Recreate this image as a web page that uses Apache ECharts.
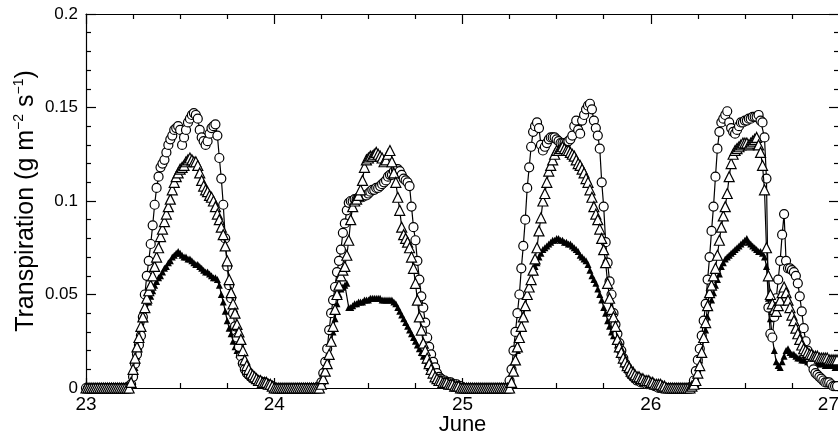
<!DOCTYPE html>
<html><head><meta charset="utf-8">
<script src="https://cdn.jsdelivr.net/npm/echarts@6/dist/echarts.min.js"></script>
<style>html,body{margin:0;padding:0;background:#fff}#c{width:838px;height:435px}</style>
</head><body><div id="c"></div>
<script>
// Days on the x axis (June), 15-minute samples (96 per day)
const firstDay = 23;
const lastDay = 27;
const xTickLabels = [23, 24, 25, 26, 27];
const yTickLabels = [0, 0.05, 0.1, 0.15, 0.2];

// ---- open circles ----
const circles23 = [
0,0,0,0, 0,0,0,0, 0,0,0,0, 0,0,0,0, 0,0,0,0,
0,0,0.001,0.002, 0.006,0.013,0.018,0.023, 0.028,0.038,0.05,0.06, 0.068,0.077,0.087,0.098,
0.107,0.113,0.118,0.12, 0.122,0.126,0.13,0.133, 0.135,0.138,0.139,0.14, 0.138,0.13,0.134,0.138,
0.142,0.144,0.146,0.147, 0.146,0.144,0.138,0.134, 0.132,0.13,0.132,0.136, 0.139,0.14,0.141,0.135,
0.123,0.112,0.098,0.08, 0.065,0.055,0.048,0.04, 0.033,0.027,0.022,0.017, 0.013,0.01,0.008,0.007,
0.006,0.005,0.005,0.004, 0.004,0.003,0.003,0.003, 0.002,0.002,0.001,0.001];
const circles24 = [
0,0,0,0, 0,0,0,0, 0,0,0,0, 0,0,0,0, 0,0,0,0,
0,0,0,0.001, 0.003,0.008,0.014,0.021, 0.031,0.04,0.047,0.054, 0.062,0.068,0.074,0.083,
0.088,0.095,0.099,0.1, 0.1,0.101,0.101,0.102, 0.102,0.102,0.103,0.103, 0.104,0.105,0.106,0.106,
0.107,0.107,0.108,0.109, 0.11,0.111,0.113,0.114, 0.114,0.116,0.117,0.117, 0.116,0.114,0.112,0.111,
0.11,0.108,0.097,0.086, 0.079,0.068,0.058,0.049, 0.043,0.035,0.027,0.022, 0.018,0.014,0.011,0.008,
0.006,0.005,0.004,0.004, 0.003,0.003,0.003,0.002, 0.002,0.002,0.001,0.001];
const circles25 = [
0,0,0,0, 0,0,0,0, 0,0,0,0, 0,0,0,0, 0,0,0,0,
0,0,0,0, 0.004,0.01,0.02,0.03, 0.04,0.05,0.064,0.076, 0.09,0.107,0.118,0.129,
0.137,0.14,0.142,0.139, 0.13,0.127,0.129,0.131, 0.133,0.134,0.134,0.134, 0.133,0.132,0.131,0.131,
0.131,0.131,0.132,0.133, 0.135,0.14,0.143,0.138, 0.136,0.143,0.146,0.149, 0.151,0.152,0.149,0.143,
0.139,0.135,0.128,0.11, 0.097,0.078,0.067,0.057, 0.05,0.04,0.034,0.029, 0.024,0.02,0.016,0.013,
0.011,0.009,0.007,0.006, 0.005,0.004,0.004,0.003, 0.003,0.003,0.002,0.002];
const circles26 = [
0.002,0.002,0.001,0.001, 0,0,0,0, 0,0,0,0, 0,0,0,0, 0,0,0,0,
0,0.001,0.004,0.009, 0.015,0.021,0.028,0.036, 0.045,0.058,0.07,0.084, 0.097,0.113,0.128,0.137,
0.142,0.144,0.146,0.148, 0.142,0.139,0.137,0.136, 0.138,0.14,0.142,0.142, 0.143,0.143,0.144,0.144,
0.145,0.145,0.145,0.146, 0.143,0.142,0.134,0.112, 0.043,0.029,0.027,0.038, 0.048,0.058,0.068,0.082,
0.093,0.068,0.064,0.064, 0.063,0.062,0.06,0.056, 0.049,0.041,0.032,0.025, 0.02,0.016,0.013,0.01,
0.008,0.007,0.006,0.005, 0.004,0.003,0.003,0.003, 0.002,0.001,0.001,0.001];

// ---- open triangles ----
const openTri23 = [
0,0,0,0, 0,0,0,0, 0,0,0,0, 0,0,0,0, 0,0,0,0,
0,0,0,0.003, 0.01,0.016,0.022,0.027, 0.033,0.038,0.043,0.048, 0.052,0.055,0.06,0.065,
0.07,0.075,0.081,0.085, 0.089,0.093,0.097,0.101, 0.106,0.11,0.113,0.115, 0.117,0.118,0.119,0.121,
0.122,0.123,0.122,0.121, 0.121,0.119,0.115,0.111, 0.108,0.106,0.105,0.103, 0.102,0.1,0.097,0.093,
0.09,0.086,0.082,0.076, 0.068,0.058,0.051,0.045, 0.04,0.034,0.03,0.026, 0.02,0.015,0.012,0.01,
0.008,0.007,0.006,0.005, 0.004,0.004,0.003,0.003, 0.003,0.002,0.002,0.001];
const openTri24 = [
0,0,0,0, 0,0,0,0, 0,0,0,0, 0,0,0,0, 0,0,0,0,
0,0,0,0, 0.002,0.005,0.009,0.013, 0.018,0.025,0.033,0.042, 0.05,0.055,0.06,0.063,
0.065,0.071,0.079,0.09, 0.097,0.1,0.101,0.103, 0.106,0.111,0.118,0.122, 0.123,0.124,0.124,0.125,
0.126,0.125,0.124,0.123, 0.121,0.122,0.125,0.127, 0.121,0.115,0.11,0.102, 0.095,0.086,0.082,0.08,
0.078,0.075,0.07,0.064, 0.056,0.047,0.038,0.031, 0.024,0.02,0.016,0.013, 0.01,0.008,0.006,0.005,
0.004,0.004,0.003,0.003, 0.003,0.002,0.002,0.002, 0.001,0.001,0.001,0];
const openTri25 = [
0,0,0,0, 0,0,0,0, 0,0,0,0, 0,0,0,0, 0,0,0,0,
0,0,0,0, 0,0.003,0.009,0.015, 0.022,0.027,0.033,0.038, 0.044,0.05,0.054,0.058,
0.063,0.069,0.075,0.084, 0.091,0.1,0.104,0.11, 0.116,0.119,0.122,0.125, 0.127,0.127,0.128,0.129,
0.128,0.127,0.127,0.126, 0.125,0.124,0.122,0.12, 0.119,0.117,0.115,0.112, 0.11,0.106,0.102,0.097,
0.093,0.09,0.085,0.08, 0.074,0.067,0.056,0.048, 0.042,0.038,0.033,0.026, 0.022,0.019,0.016,0.014,
0.012,0.011,0.009,0.008, 0.007,0.006,0.006,0.005, 0.005,0.004,0.004,0.004];
const openTri26 = [
0.003,0.003,0.002,0.002, 0.002,0.002,0.001,0.001, 0,0,0,0, 0,0,0,0, 0,0,0,0,
0,0.001,0.002,0.004, 0.008,0.012,0.019,0.027, 0.035,0.044,0.051,0.055, 0.06,0.064,0.071,0.079,
0.086,0.092,0.097,0.104, 0.113,0.12,0.125,0.127, 0.128,0.129,0.13,0.131, 0.131,0.131,0.13,0.131,
0.132,0.133,0.134,0.13, 0.126,0.119,0.106,0.075, 0.06,0.05,0.045,0.042, 0.041,0.044,0.047,0.051,
0.054,0.051,0.047,0.043, 0.039,0.036,0.032,0.029, 0.026,0.023,0.021,0.02, 0.019,0.018,0.018,0.017,
0.017,0.017,0.016,0.016, 0.016,0.016,0.016,0.015, 0.015,0.015,0.015,0.015];

// ---- filled triangles ----
const filledTri23 = [
0,0,0,0, 0,0,0,0, 0,0,0,0, 0,0,0,0, 0,0,0,0,
0,0,0,0.002, 0.006,0.011,0.017,0.022, 0.027,0.032,0.037,0.042, 0.046,0.049,0.052,0.055,
0.057,0.059,0.06,0.062, 0.064,0.065,0.067,0.068, 0.07,0.071,0.072,0.073, 0.072,0.071,0.07,0.07,
0.069,0.069,0.068,0.067, 0.066,0.066,0.065,0.064, 0.063,0.062,0.062,0.061, 0.06,0.059,0.059,0.058,
0.055,0.05,0.046,0.041, 0.036,0.032,0.029,0.025, 0.022,0.02,0.018,0.015, 0.013,0.012,0.01,0.009,
0.008,0.007,0.006,0.005, 0.004,0.004,0.003,0.003, 0.003,0.002,0.002,0.001];
const filledTri24 = [
0,0,0,0, 0,0,0,0, 0,0,0,0, 0,0,0,0, 0,0,0,0,
0,0,0,0, 0.002,0.005,0.009,0.014, 0.018,0.024,0.03,0.037, 0.045,0.05,0.053,0.054,
0.055,0.056,0.043,0.043, 0.044,0.045,0.045,0.046, 0.046,0.046,0.047,0.047, 0.047,0.048,0.048,0.048,
0.048,0.048,0.048,0.047, 0.047,0.047,0.047,0.047, 0.047,0.046,0.045,0.043, 0.041,0.039,0.037,0.035,
0.033,0.031,0.029,0.027, 0.025,0.023,0.021,0.019, 0.017,0.015,0.013,0.011, 0.009,0.008,0.006,0.005,
0.004,0.003,0.003,0.002, 0.002,0.002,0.001,0.001, 0.001,0.001,0,0];
const filledTri25 = [
0,0,0,0, 0,0,0,0, 0,0,0,0, 0,0,0,0, 0,0,0,0,
0,0,0,0, 0,0.004,0.009,0.014, 0.02,0.026,0.033,0.039, 0.045,0.05,0.054,0.058,
0.062,0.065,0.067,0.07, 0.072,0.074,0.075,0.076, 0.077,0.078,0.079,0.079, 0.08,0.08,0.079,0.079,
0.078,0.078,0.077,0.077, 0.076,0.075,0.074,0.073, 0.071,0.07,0.069,0.068, 0.066,0.063,0.06,0.058,
0.056,0.053,0.05,0.047, 0.043,0.04,0.036,0.033, 0.03,0.028,0.025,0.023, 0.021,0.019,0.017,0.015,
0.013,0.012,0.011,0.01, 0.008,0.007,0.007,0.006, 0.005,0.005,0.004,0.004];
const filledTri26 = [
0.003,0.002,0.002,0.001, 0,0,0,0, 0,0,0,0, 0,0,0,0, 0,0,0,0,
0,0.001,0.003,0.006, 0.01,0.015,0.02,0.026, 0.031,0.038,0.043,0.047, 0.051,0.055,0.058,0.061,
0.065,0.067,0.069,0.07, 0.071,0.072,0.073,0.074, 0.075,0.076,0.077,0.078, 0.079,0.08,0.078,0.077,
0.076,0.075,0.074,0.073, 0.073,0.072,0.07,0.065, 0.048,0.037,0.027,0.02, 0.014,0.012,0.011,0.014,
0.017,0.02,0.021,0.019, 0.018,0.018,0.017,0.016, 0.016,0.015,0.015,0.015, 0.014,0.014,0.014,0.014,
0.013,0.013,0.013,0.013, 0.013,0.012,0.012,0.012, 0.012,0.012,0.011,0.011];

function toPairs(days) {
  const out = [];
  days.forEach((arr, d) => arr.forEach((v, j) => out.push([firstDay + d + j / arr.length, v])));
  return out;
}
const circleData = toPairs([circles23, circles24, circles25, circles26]);
const openData = toPairs([openTri23, openTri24, openTri25, openTri26]);
const filledData = toPairs([filledTri23, filledTri24, filledTri25, filledTri26]);

const FONT = '"Liberation Sans", Arial, Helvetica, sans-serif';
const black = '#000';

function xAxisDef(pos, labels) {
  return {
    type: 'value', position: pos, min: firstDay, max: lastDay, interval: 1,
    axisLine: { show: true, onZero: false, lineStyle: { color: black, width: 1.2 } },
    axisTick: { show: true, inside: true, length: 10, lineStyle: { color: black, width: 1.2 } },
    minorTick: { show: true, splitNumber: 4, length: 5, lineStyle: { color: black, width: 1.2 } },
    splitLine: { show: false }, minorSplitLine: { show: false },
    axisLabel: labels ? {
      show: true, color: black, fontSize: 19, fontFamily: FONT, margin: 7,
      showMinLabel: true, showMaxLabel: true, hideOverlap: false, alignMaxLabel: 'right',
      formatter: v => xTickLabels.includes(v) ? String(v) : ''
    } : { show: false },
    name: labels ? 'June' : '', nameLocation: 'middle', nameGap: 26, nameMoveOverlap: false,
    nameTextStyle: { color: black, fontSize: 22, fontFamily: FONT }
  };
}
function yAxisDef(pos, labels) {
  return {
    type: 'value', position: pos, min: 0, max: 0.2, interval: 0.05,
    axisLine: { show: true, onZero: false, lineStyle: { color: black, width: 1.2 } },
    axisTick: { show: true, inside: true, length: 10, lineStyle: { color: black, width: 1.2 } },
    minorTick: { show: true, splitNumber: 5, length: 5, lineStyle: { color: black, width: 1.2 } },
    splitLine: { show: false }, minorSplitLine: { show: false },
    axisLabel: labels ? {
      show: true, color: black, fontSize: 17, fontFamily: FONT, margin: 8,
      showMinLabel: true, showMaxLabel: true, hideOverlap: false,
      formatter: v => { const t = yTickLabels.find(k => Math.abs(k - v) < 1e-9); return t === undefined ? '' : String(t); }
    } : { show: false },
    name: labels ? '{a|Transpiration (g m}{s|−2}{a| s}{s|−1}{a|)}' : '',
    nameLocation: 'middle', nameGap: 46, nameMoveOverlap: false,
    nameTextStyle: {
      color: black, fontFamily: FONT,
      rich: {
        a: { fontSize: 25, fontFamily: FONT, color: black, lineHeight: 28 },
        s: { fontSize: 14, fontFamily: FONT, color: black, verticalAlign: 'top', lineHeight: 15 }
      }
    }
  };
}

const chart = echarts.init(document.getElementById('c'), null, { renderer: 'canvas' });
chart.setOption({
  animation: false,
  backgroundColor: '#fff',
  grid: { left: 86, right: -1, top: 14, bottom: 47, containLabel: false, outerBoundsMode: 'none' },
  xAxis: [xAxisDef('bottom', true), xAxisDef('top', false)],
  yAxis: [yAxisDef('left', true), yAxisDef('right', false)],
  series: [
    {
      type: 'line', data: filledData, xAxisIndex: 0, yAxisIndex: 0, z: 2,
      symbol: 'triangle', symbolSize: 7, showSymbol: true, showAllSymbol: true,
      itemStyle: { color: black }, lineStyle: { color: black, width: 1.2 },
      emphasis: { disabled: true }, silent: true
    },
    {
      type: 'line', data: circleData, xAxisIndex: 0, yAxisIndex: 0, z: 3,
      symbol: 'circle', symbolSize: 9, showSymbol: true, showAllSymbol: true,
      itemStyle: { color: '#fff', borderColor: black, borderWidth: 1.2 },
      lineStyle: { color: black, width: 1.2 },
      emphasis: { disabled: true }, silent: true
    },
    {
      type: 'line', data: openData, xAxisIndex: 0, yAxisIndex: 0, z: 4,
      symbol: 'triangle', symbolSize: 10, showSymbol: true, showAllSymbol: true,
      itemStyle: { color: '#fff', borderColor: black, borderWidth: 1.2 },
      lineStyle: { color: black, width: 1.2 },
      emphasis: { disabled: true }, silent: true
    }
  ]
});
</script>
</body></html>
